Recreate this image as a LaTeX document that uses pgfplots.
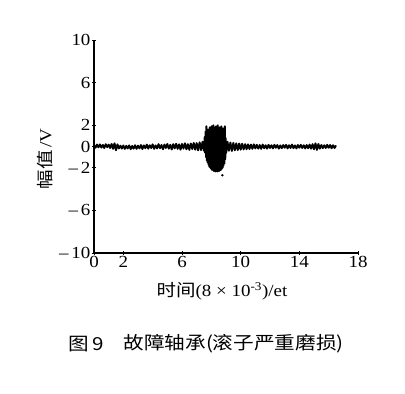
\documentclass[border=0pt]{standalone}
\usepackage{fontspec}
\setmainfont{Liberation Serif}[FakeStretch=1.12]
\newfontfamily\cjk{Noto Sans CJK SC}[FakeStretch=1.15]
\usepackage{pgfplots}
\pgfplotsset{compat=1.18}
\begin{document}
\begin{tikzpicture}
\path[use as bounding box] (-94bp,-141bp) rectangle (311bp,253bp);
\begin{axis}[
  at={(0,0)}, anchor=south west,
  scale only axis, width=264bp, height=213bp,
  xmin=0, xmax=18, ymin=-10, ymax=10,
  axis lines=left,
  axis line style={-, line width=1.3pt},
  xtick={0,2,6,10,14,18},
  ytick={-10,-6,-2,0,2,6,10},
  yticklabels={{–\,10},{–\,6},{–\,2},0,2,6,10},
  tick align=center,
  major tick length=4bp,
  tick style={black, line width=0.8pt},
  /pgf/number format/assume math mode=true,
  ticklabel style={font=\fontsize{17}{17}\selectfont},
  xticklabel style={yshift=2bp},
  yticklabel style={xshift=2bp},
  clip=false,
]
\addplot[black, line width=1.9pt, line join=round] coordinates {
(0.0,0.10)(0.1,-0.12)(0.2,0.18)(0.3,-0.08)(0.4,0.20)(0.5,-0.10)(0.6,0.15)(0.7,-0.15)(0.8,0.22)(0.9,-0.06)
(1.0,0.18)(1.1,-0.14)(1.2,0.24)(1.3,-0.22)(1.4,0.30)(1.5,-0.35)(1.6,0.20)(1.7,-0.18)(1.8,0.08)(1.9,-0.20)
(2.0,0.10)(2.1,-0.22)(2.2,0.06)(2.3,-0.18)(2.4,0.10)(2.5,-0.25)(2.6,0.05)(2.7,-0.20)(2.8,0.12)(2.9,-0.22)
(3.0,0.08)(3.1,-0.18)(3.2,0.14)(3.3,-0.24)(3.4,0.10)(3.5,-0.16)(3.6,0.18)(3.7,-0.20)(3.8,0.12)(3.9,-0.14)
(4.0,0.20)(4.1,-0.22)(4.2,0.10)(4.3,-0.18)(4.4,0.22)(4.5,-0.16)(4.6,0.14)(4.7,-0.26)(4.8,0.18)(4.9,-0.14)
(5.0,0.24)(5.1,-0.20)(5.2,0.16)(5.3,-0.28)(5.4,0.22)(5.5,-0.18)(5.6,0.26)(5.7,-0.22)(5.8,0.20)(5.9,-0.30)
(6.0,0.24)(6.1,-0.20)(6.2,0.30)(6.3,-0.26)(6.4,0.22)(6.5,-0.32)(6.6,0.28)(6.7,-0.24)(6.8,0.34)(6.9,-0.30)
(7.0,0.32)(7.1,-0.36)(7.2,0.40)(7.3,-0.34)(7.4,0.45)(7.5,-0.40)
(7.55,0.9)(7.58,-0.6)(7.61,1.4)(7.64,-1.0)(7.66,1.9)(7.69,-1.3)(7.72,1.2)(7.75,-1.5)(7.78,1.6)(7.81,-1.7)
(7.84,1.3)(7.87,-1.9)(7.90,1.8)(7.93,-2.0)(7.96,1.5)(7.99,-2.1)(8.02,1.9)(8.05,-2.2)(8.08,1.7)(8.11,-2.2)
(8.14,2.0)(8.17,-2.3)(8.20,1.8)(8.23,-2.3)(8.26,1.6)(8.29,-2.35)(8.32,1.9)(8.35,-2.3)(8.38,1.7)(8.41,-2.35)
(8.44,2.0)(8.47,-2.3)(8.50,1.5)(8.53,-2.3)(8.56,1.8)(8.59,-2.25)(8.62,1.6)(8.65,-2.2)(8.68,1.9)(8.71,-2.1)
(8.74,1.5)(8.77,-2.0)(8.80,1.7)(8.83,-1.8)(8.86,1.3)(8.89,-1.6)(8.92,1.9)(8.95,-1.2)(8.98,0.8)(9.01,-0.6)
(9.1,0.45)(9.2,-0.40)(9.3,0.38)(9.4,-0.42)(9.5,0.34)(9.6,-0.36)(9.7,0.30)(9.8,-0.34)(9.9,0.28)
(10.0,-0.30)(10.1,0.26)(10.2,-0.28)(10.3,0.22)(10.4,-0.26)(10.5,0.20)(10.6,-0.24)(10.7,0.18)(10.8,-0.22)(10.9,0.20)
(11.0,-0.18)(11.1,0.16)(11.2,-0.20)(11.3,0.14)(11.4,-0.22)(11.5,0.18)(11.6,-0.16)(11.7,0.12)(11.8,-0.20)(11.9,0.16)
(12.0,-0.14)(12.1,0.12)(12.2,-0.18)(12.3,0.16)(12.4,-0.12)(12.5,0.14)(12.6,-0.20)(12.7,0.10)(12.8,-0.16)(12.9,0.14)
(13.0,-0.12)(13.1,0.16)(13.2,-0.18)(13.3,0.12)(13.4,-0.14)(13.5,0.18)(13.6,-0.16)(13.7,0.10)(13.8,-0.18)(13.9,0.14)
(14.0,-0.12)(14.1,0.16)(14.2,-0.14)(14.3,0.12)(14.4,-0.18)(14.5,0.14)(14.6,-0.16)(14.7,0.18)(14.8,-0.20)(14.9,0.22)
(15.0,-0.26)(15.1,0.30)(15.2,-0.32)(15.3,0.24)(15.4,-0.20)(15.5,0.14)(15.6,-0.16)(15.7,0.12)(15.8,-0.14)(15.9,0.16)
(16.0,-0.12)(16.1,0.14)(16.2,-0.16)(16.3,0.12)(16.4,-0.14)(16.5,0.10)
};
\addplot[only marks, mark=*, mark size=1pt, black] coordinates {(8.75,-2.7)};
\end{axis}
\node[rotate=90, font=\fontsize{17}{17}\selectfont] at (-49bp,94bp) {{\cjk 幅值}\,/V};
\node[font=\fontsize{17}{17}\selectfont] at (128bp,-38bp) {{\cjk 时间}(8 × 10\textsuperscript{-3})/et};
\node[anchor=west, font=\fontsize{18}{18}\selectfont\cjk] at (-29bp,-91bp) {图\,9};
\node[anchor=west, font=\fontsize{18}{18}\selectfont\cjk] at (26bp,-91bp) {故障轴承(滚子严重磨损)};
\end{tikzpicture}
\end{document}
